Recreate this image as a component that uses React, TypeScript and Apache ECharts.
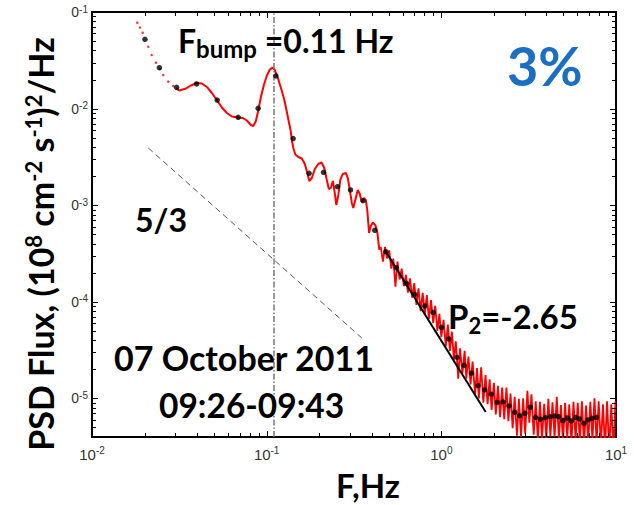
import React, { useEffect, useRef } from 'react';
import * as echarts from 'echarts';

// ---- data ----
const startDotF = [0.01816, 0.01882, 0.0195, 0.021, 0.02196, 0.02323, 0.02449, 0.02558, 0.02733, 0.02919];
const startDotP = [0.0775, 0.0691, 0.0611, 0.0437, 0.0359, 0.02986, 0.0257, 0.02227, 0.019, 0.01714];

const smoothF = [0.03023, 0.03157, 0.0345, 0.03685, 0.03972, 0.04258, 0.04549, 0.04858, 0.0521, 0.05541,
  0.05919, 0.06324, 0.0687, 0.0731, 0.07703, 0.08121, 0.08393, 0.08674, 0.08965, 0.09265,
  0.09638, 0.1003, 0.1043, 0.1081, 0.1114, 0.1159, 0.1217, 0.1263, 0.1305, 0.134,
  0.137, 0.1394, 0.1421, 0.1459, 0.1518, 0.159, 0.1654, 0.1709, 0.1755, 0.1814,
  0.1887, 0.1976, 0.2061, 0.2138, 0.221, 0.2269, 0.233, 0.2392, 0.244, 0.2505,
  0.2572, 0.264, 0.2729, 0.2839, 0.2914, 0.2992, 0.3072, 0.3133, 0.3216, 0.3324,
  0.3413, 0.3504, 0.3597, 0.3693, 0.3767, 0.3858, 0.3945, 0.4052, 0.4187, 0.4298, 0.4413];
const smoothP = [0.01622, 0.0154, 0.01615, 0.01734, 0.01841, 0.01819, 0.01674, 0.0145, 0.01213, 0.01026,
  0.009006, 0.008282, 0.00809, 0.007993, 0.007529, 0.006763, 0.006604, 0.007439, 0.00967, 0.01318,
  0.01755, 0.02202, 0.0254, 0.02664, 0.0251, 0.02074, 0.01557, 0.01227, 0.00922, 0.007265,
  0.006006, 0.004732, 0.00391, 0.003349, 0.003155, 0.003044, 0.00267, 0.002154, 0.00178, 0.001912,
  0.002369, 0.00267, 0.002767, 0.002427, 0.001824, 0.001471, 0.001507, 0.00178, 0.001437, 0.001005,
  0.001275, 0.001824, 0.002104, 0.002154, 0.001912, 0.001437, 0.001054, 0.000935, 0.001132, 0.001437,
  0.001306, 0.001079, 0.001187, 0.001132, 0.000892, 0.000516, 0.000609, 0.000662, 0.000624, 0.000528, 0.000344];

const noiseF = [0.45, 0.463, 0.476, 0.489, 0.503, 0.517, 0.531, 0.546, 0.561, 0.577,
  0.593, 0.61, 0.627, 0.644, 0.662, 0.681, 0.7, 0.72, 0.74, 0.761,
  0.782, 0.804, 0.826, 0.849, 0.873, 0.898, 0.923, 0.949, 0.975, 1.0,
  1.03, 1.06, 1.09, 1.12, 1.15, 1.18, 1.21, 1.25, 1.28, 1.32,
  1.36, 1.39, 1.43, 1.47, 1.51, 1.56, 1.6, 1.64, 1.69, 1.74,
  1.79, 1.84, 1.89, 1.94, 2.0, 2.05, 2.11, 2.17, 2.23, 2.29,
  2.36, 2.42, 2.49, 2.56, 2.63, 2.71, 2.78, 2.86, 2.94, 3.02,
  3.11, 3.19, 3.28, 3.38, 3.47, 3.57, 3.67, 3.77, 3.88, 3.99,
  4.1, 4.21, 4.33, 4.45, 4.58, 4.71, 4.84, 4.97, 5.11, 5.26,
  5.4, 5.56, 5.71, 5.87, 6.04, 6.21, 6.38, 6.56, 6.74, 6.93,
  7.13, 7.33, 7.53, 7.74, 7.96, 8.19, 8.42, 8.65, 8.89, 9.14,
  9.4, 9.66, 9.93];
const noiseP = [3.7e-4, 2.6e-4, 3.7e-4, 2.8e-4, 3.4e-4, 2.2e-4, 2.8e-4, 1.43e-4, 2.6e-4, 1.7e-4,
  2.2e-4, 1.45e-4, 1.9e-4, 1.24e-4, 1.75e-4, 1.1e-4, 1.56e-4, 9.3e-5, 1.38e-4, 8.0e-5,
  1.24e-4, 7.5e-5, 1.17e-4, 6.6e-5, 1.04e-4, 6.0e-5, 9.1e-5, 5.0e-5, 7.5e-5, 4.3e-5,
  6.5e-5, 3.45e-5, 5.8e-5, 3.1e-5, 4.9e-5, 2.5e-5, 3.9e-5, 1.6e-5, 3.3e-5, 1.8e-5,
  3.1e-5, 1.6e-5, 2.7e-5, 1.39e-5, 2.4e-5, 1.09e-5, 2.06e-5, 1.0e-5, 2.1e-5, 9.0e-6,
  1.74e-5, 8.7e-6, 1.57e-5, 7.6e-6, 1.45e-5, 6.8e-6, 1.35e-5, 6.4e-6, 1.29e-5, 6.1e-6,
  1.29e-5, 5.8e-6, 1.12e-5, 4.9e-6, 1.04e-5, 4.1e-6, 9.9e-6, 4.0e-6, 1.0e-5, 4.3e-6,
  1.2e-5, 5.6e-6, 1.1e-5, 4.2e-6, 9.3e-6, 3.7e-6, 9.2e-6, 3.8e-6, 8.8e-6, 3.8e-6,
  9.9e-6, 4.0e-6, 9.1e-6, 4.0e-6, 1.04e-5, 3.8e-6, 8.5e-6, 3.5e-6, 9.0e-6, 3.9e-6,
  8.7e-6, 3.5e-6, 9.2e-6, 3.8e-6, 9.0e-6, 3.5e-6, 9.3e-6, 3.3e-6, 8.4e-6, 3.5e-6,
  9.2e-6, 3.7e-6, 1.0e-5, 3.5e-6, 9.3e-6, 3.3e-6, 8.7e-6, 3.0e-6, 9.3e-6, 2.9e-6,
  8.7e-6, 2.8e-6, 9.3e-6];

const binF = [0.0201, 0.0243, 0.0305, 0.0397, 0.0521, 0.0687, 0.0894, 0.1129, 0.1418, 0.175,
  0.2116, 0.2544, 0.302, 0.3565, 0.416, 0.481, 0.5535, 0.631, 0.704, 0.8035,
  0.8965, 1.001, 1.102, 1.23, 1.349, 1.487, 1.622, 1.771, 1.93, 2.088,
  2.254, 2.439, 2.63, 2.809, 3.012, 3.234, 3.467, 3.689, 3.94, 4.208,
  4.454, 4.695, 4.968, 5.266, 5.55, 5.874, 6.19, 6.553, 6.908, 7.28, 7.72];
const binP = [0.0522, 0.0265, 0.01662, 0.01798, 0.01227, 0.00813, 0.01007, 0.02176, 0.0049, 0.00214,
  0.00219, 0.001554, 0.001437, 0.001113, 0.00055, 0.00033, 0.000225, 0.0001554, 0.0001196, 0.0000904,
  7.78e-5, 5.44e-5, 4.12e-5, 2.66e-5, 2.2e-5, 1.82e-5, 1.353e-5, 1.222e-5, 1.103e-5, 9.07e-6,
  9.18e-6, 8.34e-6, 7.18e-6, 6.62e-6, 7.01e-6, 8.09e-6, 6.37e-6, 6.08e-6, 6.31e-6, 6.46e-6,
  6.58e-6, 6.46e-6, 5.88e-6, 6.27e-6, 5.83e-6, 6.37e-6, 6.12e-6, 5.52e-6, 5.97e-6, 6.22e-6, 6.37e-6];

const slopeRefF = [0.021, 0.3504];
const slopeRefP = [0.00391, 4.22e-5];
const fitF = [0.4745, 1.795];
const fitP = [3.44e-4, 7.23e-6];
const bumpFreq = 0.11;

const xMin = 0.01;
const xMax = 10;
const yMin = 3.98e-6;
const yMax = 0.1;

const xMajorTicks = [0.1, 1];
const xMinorTicks = [0.02, 0.03, 0.04, 0.05, 0.06, 0.07, 0.08, 0.09,
  0.2, 0.3, 0.4, 0.5, 0.6, 0.7, 0.8, 0.9, 2, 3, 4, 5, 6, 7, 8, 9];
const yMajorTicks = [1e-5, 1e-4, 1e-3, 1e-2];
const yMinorTicks = [5e-6, 6e-6, 7e-6, 8e-6, 9e-6,
  2e-5, 3e-5, 4e-5, 5e-5, 6e-5, 7e-5, 8e-5, 9e-5,
  2e-4, 3e-4, 4e-4, 5e-4, 6e-4, 7e-4, 8e-4, 9e-4,
  2e-3, 3e-3, 4e-3, 5e-3, 6e-3, 7e-3, 8e-3, 9e-3,
  2e-2, 3e-2, 4e-2, 5e-2, 6e-2, 7e-2, 8e-2, 9e-2];

const pairs = (a: number[], b: number[]) => a.map((v, i) => [v, b[i]]);

const BOLD = 'Lato, "Open Sans", sans-serif';
const LABEL = '"Liberation Sans", Arial, sans-serif';

function tickSeries(values: number[], len: number, dir: 'x' | 'y') {
  return {
    type: 'custom',
    coordinateSystem: 'cartesian2d',
    silent: true,
    clip: false,
    z: 6,
    data: values.map((v) => (dir === 'x' ? [v, 1e-3] : [0.1, v])),
    renderItem: (params: any, api: any) => {
      const cs = params.coordSys;
      const p = api.coord([api.value(0), api.value(1)]);
      const st = { stroke: '#000', lineWidth: 1 };
      if (dir === 'x') {
        const x = Math.round(p[0]) + 0.5;
        return {
          type: 'group',
          children: [
            { type: 'line', shape: { x1: x, y1: cs.y + cs.height, x2: x, y2: cs.y + cs.height - len }, style: st },
            { type: 'line', shape: { x1: x, y1: cs.y, x2: x, y2: cs.y + len }, style: st },
          ],
        };
      }
      const y = Math.round(p[1]) + 0.5;
      return {
        type: 'group',
        children: [
          { type: 'line', shape: { x1: cs.x, y1: y, x2: cs.x + len, y2: y }, style: st },
          { type: 'line', shape: { x1: cs.x + cs.width, y1: y, x2: cs.x + cs.width - len, y2: y }, style: st },
        ],
      };
    },
  };
}

const isDecade = (v: number) => Math.abs(Math.log10(v) - Math.round(Math.log10(v))) < 0.01;

export default function App() {
  const ref = useRef<HTMLDivElement>(null);
  useEffect(() => {
    if (!ref.current) return;
    const chart = echarts.init(ref.current, undefined, { renderer: 'svg' });
    const bigText = { fontFamily: BOLD, fontWeight: 'bold', fontSize: 34, lineHeight: 34, fill: '#000' };
    chart.setOption({
      animation: false,
      backgroundColor: '#fff',
      grid: { left: 92, right: 18, top: 12, bottom: 68, show: true, borderColor: '#000', borderWidth: 2, backgroundColor: 'transparent' },
      xAxis: {
        type: 'log', logBase: 10, min: xMin, max: xMax, splitNumber: 3,
        axisLine: { show: false }, axisTick: { show: false }, splitLine: { show: false },
        axisLabel: {
          margin: 8,
          formatter: (v: number) => (isDecade(v) ? `{b|10}{s|${Math.round(Math.log10(v))}}` : ''),
          rich: {
            b: { fontFamily: LABEL, fontSize: 15, color: '#333', lineHeight: 18 },
            s: { fontFamily: LABEL, fontSize: 10, color: '#333', lineHeight: 10, verticalAlign: 'top' },
          },
        },
      },
      yAxis: {
        type: 'log', logBase: 10, min: yMin, max: yMax,
        axisLine: { show: false }, axisTick: { show: false }, splitLine: { show: false },
        axisLabel: {
          margin: 4,
          formatter: (v: number) => (isDecade(v) ? `{b|0}{s|${Math.round(Math.log10(v))}}` : ''),
          rich: {
            b: { fontFamily: LABEL, fontSize: 14, color: '#333', lineHeight: 16 },
            s: { fontFamily: LABEL, fontSize: 10, color: '#333', lineHeight: 10, verticalAlign: 'top' },
          },
        },
      },
      series: [
        {
          type: 'line', name: 'ref53', data: pairs(slopeRefF, slopeRefP), showSymbol: false, silent: true,
          lineStyle: { color: '#555', width: 1, type: [6, 4] }, z: 2,
        },
        {
          type: 'scatter', name: 'start', data: pairs(startDotF, startDotP), symbol: 'circle', symbolSize: 2.5,
          itemStyle: { color: '#ff0000' }, silent: true, z: 3,
        },
        {
          type: 'line', name: 'psdSmooth', data: pairs(smoothF, smoothP), showSymbol: false, silent: true,
          lineStyle: { color: '#ff0000', width: 2 }, z: 3,
          markLine: {
            silent: true, symbol: 'none', label: { show: false },
            lineStyle: { color: '#777', width: 1.5, type: [6, 2, 1.5, 2] },
            data: [{ xAxis: bumpFreq }],
          },
        },
        {
          type: 'line', name: 'psdNoise', data: pairs(noiseF, noiseP), showSymbol: false, silent: true,
          lineStyle: { color: '#ff0000', width: 1.8 }, z: 3,
        },
        {
          type: 'line', name: 'fit', data: pairs(fitF, fitP), showSymbol: false, silent: true,
          lineStyle: { color: '#000', width: 2 }, z: 4,
        },
        {
          type: 'scatter', name: 'bins', data: pairs(binF, binP), symbol: 'circle', symbolSize: 5.5,
          itemStyle: { color: '#000' }, silent: true, z: 5,
        },
        tickSeries(xMajorTicks, 6, 'x'),
        tickSeries(xMinorTicks, 4, 'x'),
        tickSeries(yMajorTicks, 6, 'y'),
        tickSeries(yMinorTicks, 4, 'y'),
      ],
      graphic: [
        {
          type: 'text', x: 40, y: 244, rotation: Math.PI / 2, z: 10,
          style: {
            text: '{a|PSD Flux, (10}{s|8}{a| cm}{s|-2}{a| s}{s|-1}{a|)}{s|2}{a|/Hz}',
            align: 'center', verticalAlign: 'middle',
            rich: {
              a: { fontFamily: BOLD, fontWeight: 'bold', fontSize: 34, lineHeight: 36, fill: '#000' },
              s: { fontFamily: BOLD, fontWeight: 'bold', fontSize: 22, lineHeight: 22, verticalAlign: 'top', fill: '#000' },
            },
          },
        },
        { type: 'text', x: 368, y: 485, z: 10, style: { ...bigText, fontSize: 33, lineHeight: 30, text: 'F,Hz', align: 'center', verticalAlign: 'middle' } },
        {
          type: 'text', x: 178, y: 40, z: 10,
          style: {
            text: '{a|F}{b|bump}{a| =0.11 Hz}', align: 'left', verticalAlign: 'middle',
            rich: {
              a: { fontFamily: BOLD, fontWeight: 'bold', fontSize: 32, lineHeight: 40, fill: '#000' },
              b: { fontFamily: BOLD, fontWeight: 'bold', fontSize: 24, lineHeight: 20, verticalAlign: 'bottom', fill: '#000' },
            },
          },
        },
        {
          type: 'text', x: 507, y: 65, z: 10,
          style: { fontFamily: BOLD, fontWeight: 'bold', fontSize: 54, lineHeight: 54, fill: '#1b6ec2', text: '3%', align: 'left', verticalAlign: 'middle' },
        },
        { type: 'text', x: 135, y: 219, z: 10, style: { ...bigText, fontSize: 32, text: '5/3', align: 'left', verticalAlign: 'middle' } },
        { type: 'text', x: 114, y: 357, z: 10, style: { ...bigText, text: '07 October 2011', align: 'left', verticalAlign: 'middle' } },
        { type: 'text', x: 159, y: 405, z: 10, style: { ...bigText, fontSize: 33.5, text: '09:26-09:43', align: 'left', verticalAlign: 'middle' } },
        {
          type: 'text', x: 448, y: 316, z: 10,
          style: {
            text: '{a|P}{b|2}{a|=-2.65}', align: 'left', verticalAlign: 'middle',
            rich: {
              a: { fontFamily: BOLD, fontWeight: 'bold', fontSize: 33, lineHeight: 40, fill: '#000' },
              b: { fontFamily: BOLD, fontWeight: 'bold', fontSize: 22, lineHeight: 18, verticalAlign: 'bottom', fill: '#000' },
            },
          },
        },
      ],
    });
    return () => chart.dispose();
  }, []);
  return <div ref={ref} style={{ width: 634, height: 505, position: 'absolute', left: 0, top: 0 }} />;
}
